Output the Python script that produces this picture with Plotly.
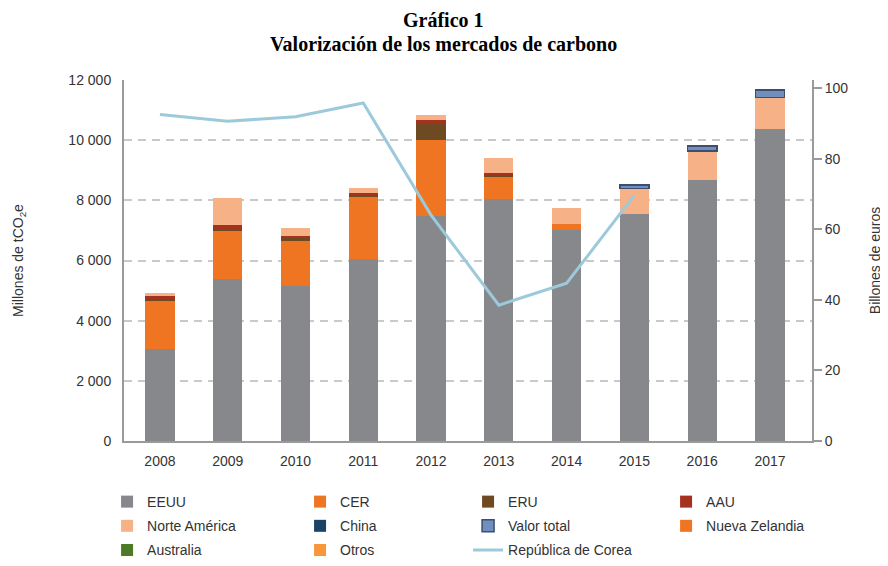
import plotly.graph_objects as go

years = ["2008", "2009", "2010", "2011", "2012", "2013", "2014", "2015", "2016", "2017"]

# Millones de tCO2e (stacked)
eeuu = [3050, 5380, 5160, 6040, 7480, 8040, 7010, 7540, 8680, 10360]
cer = [1620, 1610, 1520, 2060, 2530, 750, 200, 0, 0, 0]
eru = [80, 30, 60, 70, 550, 80, 0, 0, 0, 0]
aau = [60, 150, 70, 60, 110, 30, 0, 0, 0, 0]
norte_america = [110, 900, 270, 170, 170, 500, 540, 860, 960, 1060]
valor_total = [None, None, None, None, None, None, None, 110, 170, 240]
china = [None] * 10
nueva_zelandia = [None] * 10
australia = [None] * 10
otros = [None] * 10

# Billones de euros (right axis)
corea = [92.5, 90.6, 91.9, 95.8, 64.0, 38.5, 44.7, 69.7, None, None]

left_ticks = [0, 2000, 4000, 6000, 8000, 10000, 12000]
right_ticks = [0, 20, 40, 60, 80, 100]

FONT = "Liberation Sans, Arial, sans-serif"
TXT = "#333333"
AX = "#9a9a9a"

bars = [
    ("EEUU", eeuu, "#87888b", "legend", None),
    ("CER", cer, "#f07523", "legend2", None),
    ("ERU", eru, "#6e4a22", "legend3", None),
    ("AAU", aau, "#a5311f", "legend4", None),
    ("Norte América", norte_america, "#f6b187", "legend", None),
    ("China", china, "#1c4264", "legend2", None),
    ("Valor total", valor_total, "#6f8fbf", "legend3", "#3d4e6e"),
    ("Nueva Zelandia", nueva_zelandia, "#f07523", "legend4", None),
    ("Australia", australia, "#4e7a26", "legend", None),
    ("Otros", otros, "#f7973a", "legend2", None),
]

fig = go.Figure()
for name, vals, color, leg, line in bars:
    fig.add_trace(go.Bar(
        x=years, y=vals, name=name, legend=leg, legendgroup=name,
        marker=dict(color=color, line=dict(color=line or color, width=1.5 if line else 0)),
        hoverinfo="skip",
    ))

fig.add_trace(go.Scatter(
    x=years, y=corea, name="República de Corea", yaxis="y2", legend="legend3",
    legendgroup="corea", mode="lines", line=dict(color="#9ccadb", width=3),
))

leg_common = dict(
    orientation="v", yanchor="top", y=-0.1247, xanchor="left",
    font=dict(family=FONT, size=14, color=TXT), tracegroupgap=3,
    traceorder="grouped", bgcolor="rgba(0,0,0,0)",
)

fig.update_layout(
    width=888, height=566,
    margin=dict(l=116, r=84, t=72, b=133, autoexpand=False),
    paper_bgcolor="white", plot_bgcolor="white",
    barmode="stack", bargap=0.57,
    separators=". ",
    font=dict(family=FONT, size=14, color=TXT),
    xaxis=dict(
        type="category", range=[-0.53, 9.62], showgrid=False, automargin=False,
        showline=True, linecolor=AX, linewidth=2, ticks="", ticklabelstandoff=6,
        tickfont=dict(family=FONT, size=14, color=TXT),
    ),
    yaxis=dict(
        range=[0, 12000], tickvals=left_ticks, tickformat=",d", automargin=False,
        showgrid=True, gridcolor="#c9c9c9", gridwidth=1.5, griddash="8px,6px",
        showline=True, linecolor=AX, linewidth=2, ticks="", ticklabelstandoff=8,
        zeroline=False,
        tickfont=dict(family=FONT, size=14, color=TXT),
        title=dict(text="Millones de tCO<sub>2</sub>e", standoff=41,
                   font=dict(family=FONT, size=14, color=TXT)),
    ),
    yaxis2=dict(
        overlaying="y", side="right", range=[0, 102.3], tickvals=right_ticks,
        automargin=False,
        showgrid=False, zeroline=False, showline=True, linecolor=AX, linewidth=2,
        ticks="outside", ticklen=8, tickcolor=AX, tickwidth=1.5,
        tickfont=dict(family=FONT, size=14, color=TXT),
        title=dict(text="Billones de euros", standoff=23,
                   font=dict(family=FONT, size=14, color=TXT)),
    ),
    legend=dict(leg_common, x=-0.0246),
    legend2=dict(leg_common, x=0.2559),
    legend3=dict(leg_common, x=0.5001),
    legend4=dict(leg_common, x=0.7879),
    annotations=[
        dict(text="<b>Gráfico 1</b>", xref="paper", yref="paper", x=0.465, y=1.1994,
             xanchor="center", yanchor="top", showarrow=False, borderpad=0,
             font=dict(family="Liberation Serif, Times New Roman, serif", size=20, color="black")),
        dict(text="<b>Valorización de los mercados de carbono</b>", xref="paper", yref="paper",
             x=0.465, y=1.0985, xanchor="center", yanchor="middle", showarrow=False,
             font=dict(family="Liberation Serif, Times New Roman, serif", size=20, color="black")),
    ],
    showlegend=True,
)

fig.write_html("out.html")
